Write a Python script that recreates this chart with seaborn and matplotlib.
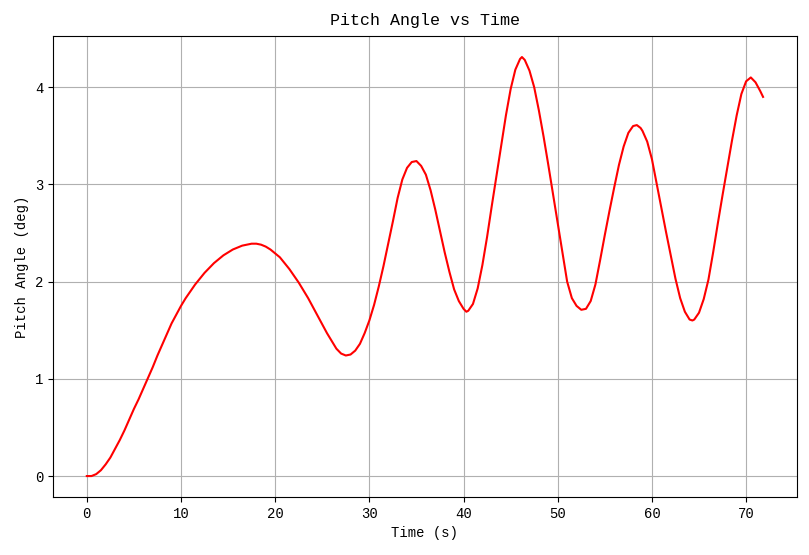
import matplotlib
matplotlib.use("Agg")
import matplotlib.pyplot as plt
import seaborn as sns
import pandas as pd

time_s = [
    0.0, 0.5, 1.0, 1.5, 2.0, 2.5, 3.0, 3.5, 4.0, 4.5, 5.0, 5.5, 6.0, 6.5, 7.0, 7.5,
    8.0, 8.5, 9.0, 9.5, 10.0, 10.5, 11.0, 11.5, 12.0, 12.5, 13.0, 13.5, 14.0, 14.5,
    15.0, 15.5, 16.0, 16.5, 17.0, 17.5, 18.0, 18.5, 19.0, 19.5, 20.0, 20.5, 21.0,
    21.5, 22.0, 22.5, 23.0, 23.5, 24.0, 24.5, 25.0, 25.5, 26.0, 26.5, 27.0, 27.5,
    28.0, 28.5, 29.0, 29.5, 30.0, 30.5, 31.0, 31.5, 32.0, 32.5, 33.0, 33.5, 34.0,
    34.5, 35.0, 35.5, 36.0, 36.5, 37.0, 37.5, 38.0, 38.5, 39.0, 39.5, 40.0, 40.3,
    40.5, 41.0, 41.5, 42.0, 42.5, 43.0, 43.5, 44.0, 44.5, 45.0, 45.5, 46.0, 46.2,
    46.5, 47.0, 47.5, 48.0, 48.5, 49.0, 49.5, 50.0, 50.5, 51.0, 51.5, 52.0, 52.5,
    53.0, 53.5, 54.0, 54.5, 55.0, 55.5, 56.0, 56.5, 57.0, 57.5, 58.0, 58.4, 58.8,
    59.0, 59.5, 60.0, 60.5, 61.0, 61.5, 62.0, 62.5, 63.0, 63.5, 64.0, 64.3, 64.5,
    65.0, 65.5, 66.0, 66.5, 67.0, 67.5, 68.0, 68.5, 69.0, 69.5, 70.0, 70.5, 71.0,
    71.5, 71.8,
]
pitch_deg = [
    0.00, 0.00, 0.02, 0.06, 0.12, 0.19, 0.28, 0.37, 0.47, 0.58, 0.69, 0.79, 0.90, 1.01, 1.12, 1.24,
    1.35, 1.46, 1.57, 1.66, 1.75, 1.83, 1.90, 1.97, 2.03, 2.09, 2.14, 2.19, 2.23, 2.27,
    2.30, 2.33, 2.35, 2.37, 2.38, 2.39, 2.39, 2.38, 2.36, 2.33, 2.29, 2.25, 2.19,
    2.13, 2.06, 1.99, 1.91, 1.83, 1.74, 1.65, 1.56, 1.47, 1.39, 1.31, 1.26, 1.24,
    1.25, 1.29, 1.36, 1.47, 1.60, 1.76, 1.95, 2.16, 2.39, 2.62, 2.86, 3.05, 3.17,
    3.23, 3.24, 3.19, 3.10, 2.94, 2.74, 2.52, 2.30, 2.10, 1.92, 1.80, 1.72, 1.69,
    1.70, 1.77, 1.93, 2.17, 2.46, 2.78, 3.09, 3.40, 3.71, 3.98, 4.18, 4.29, 4.31,
    4.28, 4.17, 4.00, 3.76, 3.49, 3.20, 2.90, 2.60, 2.30, 2.00, 1.83, 1.75, 1.71,
    1.72, 1.80, 1.97, 2.22, 2.48, 2.73, 2.97, 3.20, 3.39, 3.53, 3.60, 3.61, 3.58,
    3.55, 3.44, 3.26, 3.01, 2.76, 2.51, 2.27, 2.03, 1.83, 1.69, 1.61, 1.60, 1.61,
    1.68, 1.82, 2.02, 2.30, 2.60, 2.89, 3.17, 3.45, 3.71, 3.93, 4.06, 4.10, 4.05,
    3.96, 3.90,
]

df = pd.DataFrame({"time": time_s, "pitch": pitch_deg})

plt.rcParams["font.family"] = ["Liberation Mono", "DejaVu Sans"]

fig, ax = plt.subplots(figsize=(8.09, 5.55), dpi=100)
sns.lineplot(data=df, x="time", y="pitch", color="red", linewidth=1.5, ax=ax)
ax.grid(True, color="#b0b0b0", linewidth=0.8)
ax.set_axisbelow(True)
ax.set_title("Pitch Angle vs Time", fontsize=12, pad=8)
ax.set_xlabel("Time (s)", fontsize=10)
ax.set_ylabel("Pitch Angle (deg)", fontsize=10)
ax.tick_params(labelsize=10)
fig.subplots_adjust(left=0.0655, right=0.985, top=0.935, bottom=0.1045)
fig.savefig("out.png", dpi=100)
